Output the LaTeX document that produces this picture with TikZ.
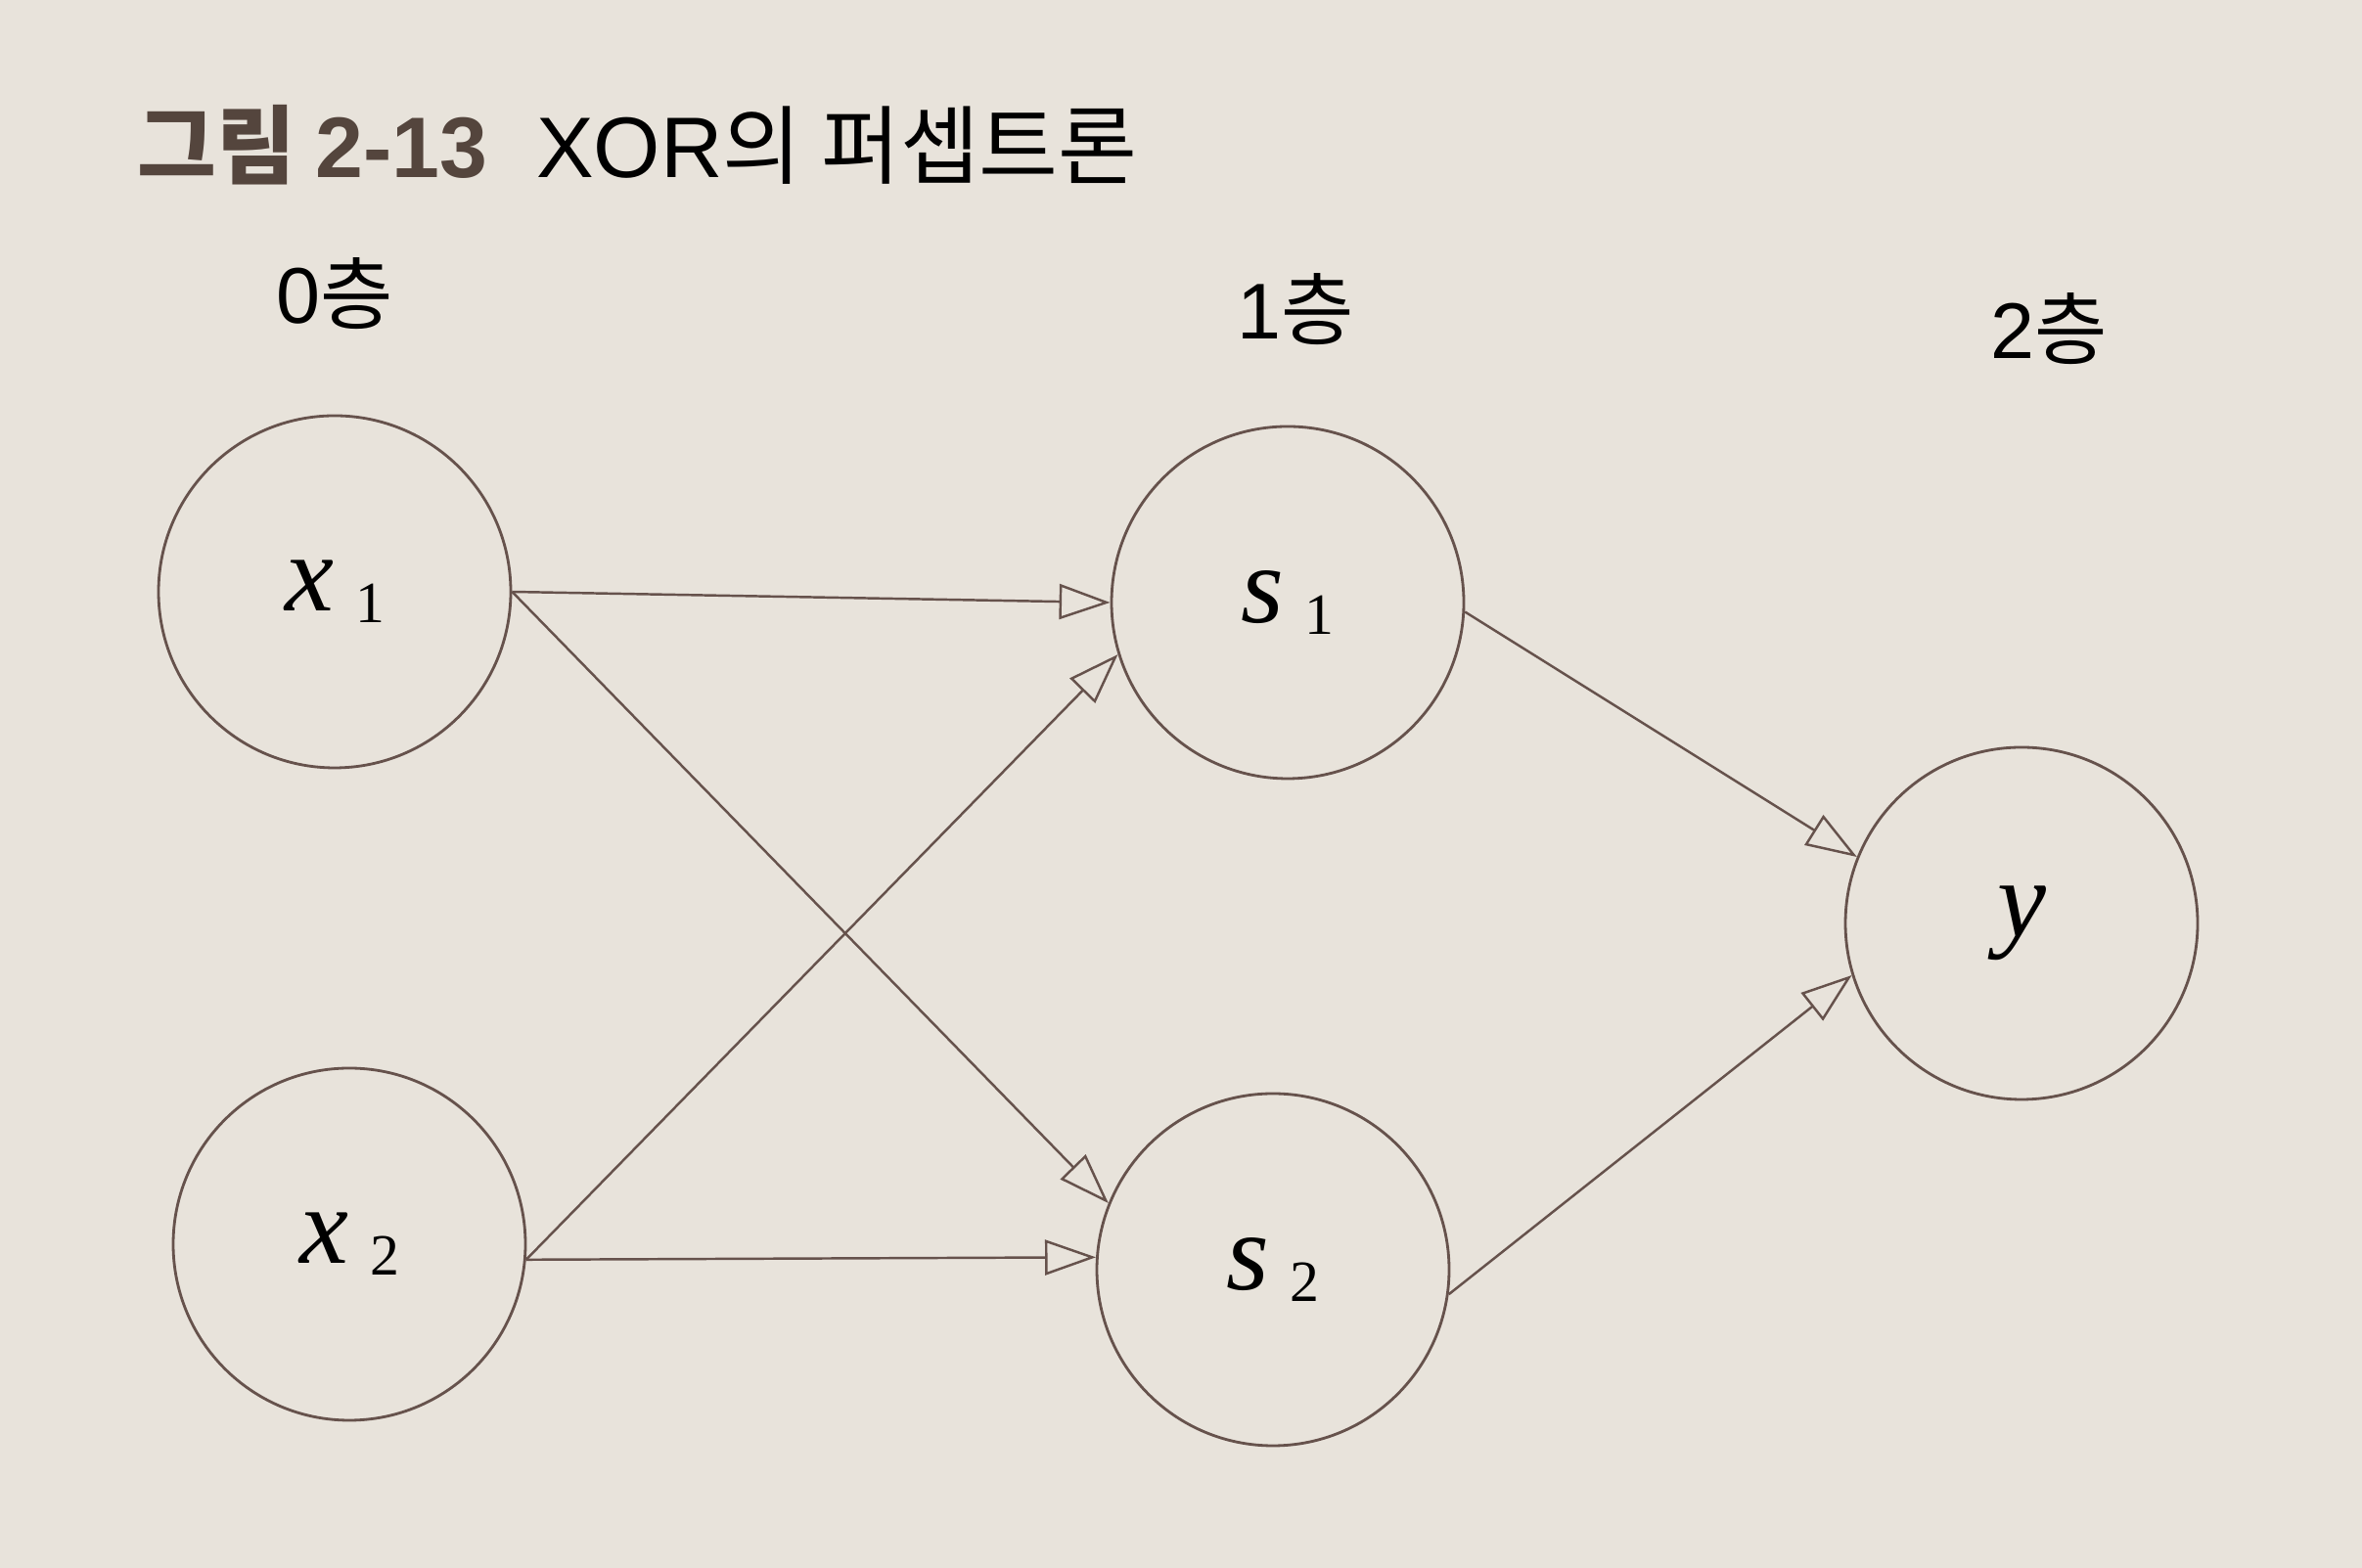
\documentclass[tikz,border=0pt]{standalone}
\usepackage{fontspec}
\setmainfont{Liberation Serif}
\newfontfamily\kofont{Noto Sans CJK KR}
\newfontfamily\latsans{Liberation Sans}
\usetikzlibrary{arrows.meta, positioning}

\definecolor{paper}{rgb}{0.91,0.89,0.86}
\definecolor{linec}{rgb}{0.40,0.32,0.30}
\definecolor{titlec}{rgb}{0.33,0.27,0.24}

% unit label: italic letter with spaced subscript
\newcommand{\unitlab}[2]{\textit{#1}\hspace{0.22cm}\raisebox{-0.12cm}{\fontsize{17}{17}\selectfont #2}}

\tikzset{
  neuron/.style={circle, draw=linec, line width=0.8pt, minimum size=3.6cm, inner sep=0pt,
    font=\fontsize{32}{32}\selectfont},
  layerlab/.style={font=\kofont\fontsize{23}{23}\selectfont},
  link/.style={draw=linec, line width=0.7pt, -{Triangle[open, length=0.52cm, width=0.36cm]}}
}

\begin{document}
\begin{tikzpicture}[scale=1]
    % Paper background
    \fill[paper] (0,0) rectangle (24.14,16.03);
    \useasboundingbox (0,0) rectangle (24.14,16.03);

    % Title
    \node[anchor=base west, inner sep=0pt, font=\kofont\fontsize{25}{25}\selectfont] (title) at (1.40,14.21)
        {\textcolor{titlec}{\bfseries 그림 {\latsans 2-13}}\hspace{0.5cm}{\latsans XOR}의 퍼셉트론};

    % Layer labels
    \node[layerlab] (l0) at (3.42,13.03) {{\latsans 0}층};
    \node[layerlab] (l1) at (13.24,12.87) {{\latsans 1}층};
    \node[layerlab] (l2) at (20.94,12.67) {{\latsans 2}층};

    % Units
    \node[neuron] (x1) at (3.42,9.98) {\unitlab{x}{1}};
    \node[neuron] (x2) at (3.57,3.31) {\unitlab{x}{2}};
    \node[neuron] (s1) at (13.16,9.87) {\unitlab{s}{1}};
    \node[neuron] (s2) at (13.01,3.05) {\unitlab{s}{2}};
    \node[neuron] (y) at (20.66,6.59) {\textit{y}};

    % Connections from layer 0 to layer 1
    \draw[link] (x1.east) -- (s1.west);
    \draw[link] (x1.east) -- (s2.158);
    \draw[link] (x2.-5) -- (s1.197);
    \draw[link] (x2.-5) -- (s2.176);

    % Connections from layer 1 to layer 2
    \draw[link] (s1.-3) -- (y.158);
    \draw[link] (s2.-8) -- (y.197);
\end{tikzpicture}
\end{document}
